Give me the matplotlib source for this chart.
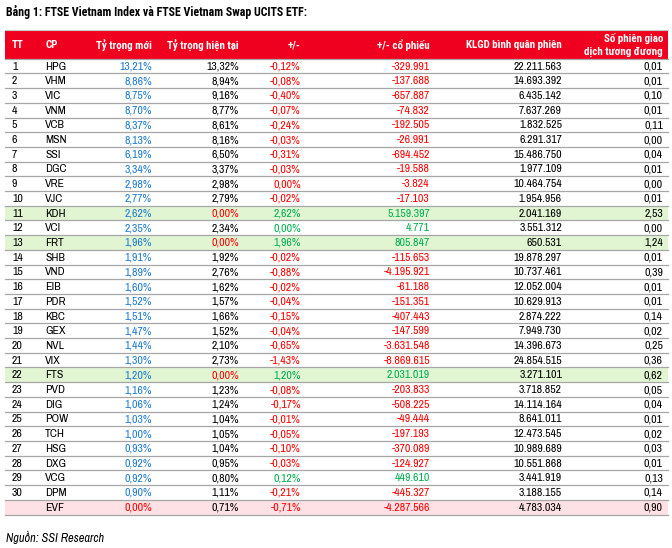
import matplotlib
matplotlib.use("Agg")
import matplotlib.pyplot as plt
from matplotlib import font_manager as fm
from matplotlib.patches import Rectangle

installed = set(f.name for f in fm.fontManager.ttflist)


def pick(*names):
    fams = [n for n in names if n in installed]
    return fams + ["DejaVu Sans"]


BODY = pick("Archivo Narrow", "Roboto Condensed", "Liberation Sans Narrow", "Liberation Sans")
BOLD = pick("Roboto Condensed", "Asap Condensed", "Archivo Narrow", "Liberation Sans")
plt.rcParams["font.family"] = BODY

# Du lieu bang
tt = [str(i) for i in range(1, 31)] + [""]
cp = ["HPG", "VHM", "VIC", "VNM", "VCB", "MSN", "SSI", "DGC", "VRE", "VJC",
      "KDH", "VCI", "FRT", "SHB", "VND", "EIB", "PDR", "KBC", "GEX", "NVL",
      "VIX", "FTS", "PVD", "DIG", "POW", "TCH", "HSG", "DXG", "VCG", "DPM", "EVF"]
ty_trong_moi = [13.21, 8.86, 8.75, 8.70, 8.37, 8.13, 6.19, 3.34, 2.98, 2.77,
                2.62, 2.35, 1.96, 1.91, 1.89, 1.60, 1.52, 1.51, 1.47, 1.44,
                1.30, 1.20, 1.16, 1.06, 1.03, 1.00, 0.93, 0.92, 0.92, 0.90, 0.00]
ty_trong_hien_tai = [13.32, 8.94, 9.16, 8.77, 8.61, 8.16, 6.50, 3.37, 2.98, 2.79,
                     0.00, 2.34, 0.00, 1.92, 2.76, 1.62, 1.57, 1.66, 1.52, 2.10,
                     2.73, 0.00, 1.23, 1.24, 1.04, 1.05, 1.04, 0.95, 0.80, 1.11, 0.71]
chenh_lech = [-0.12, -0.08, -0.40, -0.07, -0.24, -0.03, -0.31, -0.03, 0.00, -0.02,
              2.62, 0.00, 1.96, -0.02, -0.88, -0.02, -0.04, -0.15, -0.04, -0.65,
              -1.43, 1.20, -0.08, -0.17, -0.01, -0.05, -0.10, -0.03, 0.12, -0.21, -0.71]
co_phieu = [-329991, -137688, -657887, -74832, -192505, -26991, -694452, -19588, -3824, -17103,
            5159397, 4771, 805847, -115653, -4195921, -61188, -151351, -407443, -147599, -3631548,
            -8869615, 2031019, -203833, -508225, -49444, -197193, -370089, -124927, 449610, -445327,
            -4287566]
klgd = [22211563, 14693392, 6435142, 7637269, 1832525, 6291317, 15486750, 1977109, 10464754, 1954956,
        2041169, 3551312, 650531, 19878297, 10737461, 12052004, 10629913, 2874222, 7949730, 14396673,
        24854515, 3271101, 3718852, 14114164, 8641011, 12473545, 10989689, 10551868, 3441919, 3188155,
        4783034]
so_phien = [0.01, 0.01, 0.10, 0.01, 0.11, 0.00, 0.04, 0.01, 0.00, 0.01,
            2.53, 0.00, 1.24, 0.01, 0.39, 0.01, 0.01, 0.14, 0.02, 0.25,
            0.36, 0.62, 0.05, 0.04, 0.01, 0.02, 0.03, 0.01, 0.13, 0.14, 0.90]
dong_xanh = ["KDH", "FRT", "FTS"]
dong_hong = ["EVF"]


def pct(v):
    return f"{v:.2f}".replace(".", ",") + "%"


def so_nguyen(v):
    return f"{v:,}".replace(",", ".")


def dec(v):
    return f"{v:.2f}".replace(".", ",")


RED = "#FF0000"
GREEN = "#00B050"
BLUE = "#1F7BD0"
HEAD = "#F0001E"
GRID = "#A6A6A6"

fig = plt.figure(figsize=(6.72, 5.48), dpi=100)
ax = fig.add_axes([0, 0, 1, 1])
ax.set_xlim(0, 672)
ax.set_ylim(548, 0)
ax.axis("off")

x0, x1 = 5, 668
head_top, head_bot = 29.5, 58.7
row_h = (514.5 - head_bot) / len(cp)
fs = 8.5

ax.text(6, 12, "Bảng 1: FTSE Vietnam Index và FTSE Vietnam Swap UCITS ETF:",
        fontsize=8.6, fontweight="bold", family=BOLD, va="center", ha="left")

ax.add_patch(Rectangle((x0, head_top), x1 - x0, head_bot - head_top, color=HEAD, lw=0))
ax.plot([x0, x1], [head_top, head_top], color="#C8C8C8", lw=0.8)
hy = (head_top + head_bot) / 2 + 1
hkw = dict(color="white", fontweight="bold", family=BOLD, fontsize=7.9, va="center")
ax.text(12, hy, "TT", ha="left", **hkw)
ax.text(45, hy, "CP", ha="left", **hkw)
ax.text(152, hy, "Tỷ trọng mới", ha="right", **hkw)
ax.text(239, hy, "Tỷ trọng hiện tại", ha="right", **hkw)
ax.text(301, hy, "+/-", ha="right", **hkw)
ax.text(430, hy, "+/- cổ phiếu", ha="right", **hkw)
ax.text(562, hy, "KLGD bình quân phiên", ha="right", **hkw)
ax.text(663, hy - 7, "Số phiên giao", ha="right", **hkw)
ax.text(663, hy + 7, "dịch tương đương", ha="right", **hkw)

for i in range(len(cp)):
    top = head_bot + i * row_h
    yc = top + row_h / 2 + 0.5
    if cp[i] in dong_xanh:
        ax.add_patch(Rectangle((x0, top), x1 - x0, row_h, color="#E2F5D3", lw=0))
    elif cp[i] in dong_hong:
        ax.add_patch(Rectangle((x0, top), x1 - x0, row_h, color="#FDE1E4", lw=0))
    ax.plot([x0, x1], [top + row_h, top + row_h], color=GRID, lw=0.9)

    sign_col = GREEN if co_phieu[i] > 0 else RED
    ax.text(12, yc, tt[i], ha="left", va="center", fontsize=fs)
    ax.text(45, yc, cp[i], ha="left", va="center", fontsize=fs)
    ax.text(152, yc, pct(ty_trong_moi[i]), ha="right", va="center", fontsize=fs,
            color=RED if ty_trong_moi[i] == 0 else BLUE)
    ax.text(239, yc, pct(ty_trong_hien_tai[i]), ha="right", va="center", fontsize=fs,
            color=RED if ty_trong_hien_tai[i] == 0 else "black")
    ax.text(301, yc, pct(chenh_lech[i]), ha="right", va="center", fontsize=fs, color=sign_col)
    ax.text(430, yc, so_nguyen(co_phieu[i]), ha="right", va="center", fontsize=fs, color=sign_col)
    ax.text(562, yc, so_nguyen(klgd[i]), ha="right", va="center", fontsize=fs)
    ax.text(663, yc, dec(so_phien[i]), ha="right", va="center", fontsize=fs)

ax.plot([x0, x1], [head_bot, head_bot], color=GRID, lw=0.9)

ax.text(6, 537, "Nguồn: SSI Research", fontsize=8.9, style="italic",
        ha="left", va="center")

fig.savefig("out.png", dpi=100)
